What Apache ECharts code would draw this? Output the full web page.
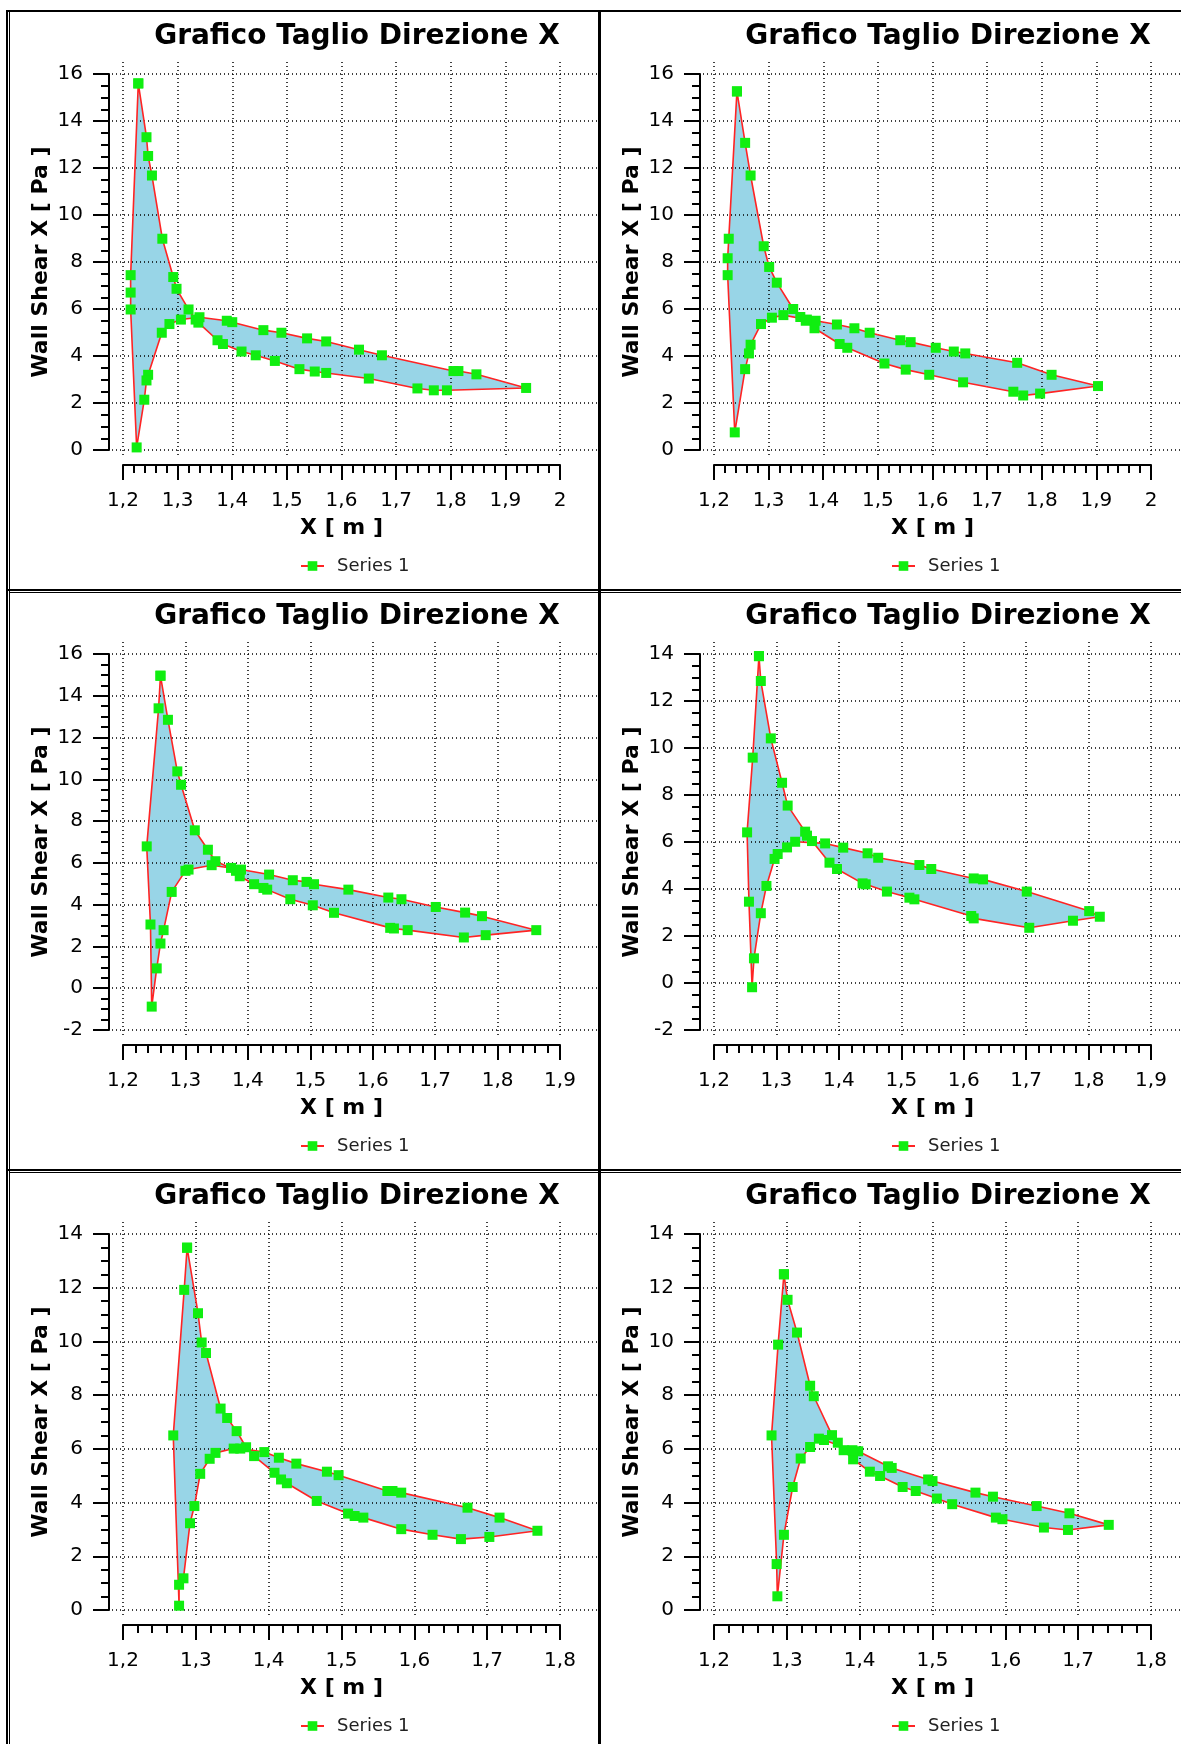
<!DOCTYPE html>
<html>
<head>
<meta charset="utf-8">
<title>Grafico Taglio Direzione X</title>
<script src="https://cdn.jsdelivr.net/npm/echarts@6/dist/echarts.min.js"></script>
<style>
  html, body { margin: 0; padding: 0; background: #fff; }
  #page { position: relative; width: 1181px; height: 1744px; overflow: hidden; background: #fff; }
  .panel { position: absolute; }
  .rule { position: absolute; background: #000; z-index: 5; }
</style>
</head>
<body>
<div id="page"></div>
<script>
// Wall shear X [Pa] along the closed contour, points given as [X (m), shear (Pa)]
// in the order they are visited around the profile.
const contour1 = [[1.228,15.6],[1.243,13.31],[1.246,12.51],[1.253,11.68],[1.272,8.99],[1.292,7.36],[1.298,6.86],[1.320,5.98],[1.333,5.55],[1.338,5.42],[1.373,4.67],[1.383,4.51],[1.417,4.19],[1.443,4.03],[1.478,3.79],[1.523,3.44],[1.551,3.34],[1.572,3.28],[1.650,3.04],[1.739,2.62],[1.769,2.54],[1.793,2.54],[1.938,2.64],[1.847,3.22],[1.814,3.36],[1.805,3.36],[1.674,4.03],[1.632,4.27],[1.572,4.62],[1.537,4.75],[1.490,4.99],[1.457,5.10],[1.400,5.44],[1.390,5.50],[1.340,5.65],[1.306,5.55],[1.285,5.36],[1.271,4.99],[1.246,3.20],[1.243,2.96],[1.239,2.14],[1.225,0.11],[1.214,5.98],[1.214,6.70],[1.214,7.44],[1.228,15.6]];
const contour2 = [[1.242,15.26],[1.257,13.07],[1.267,11.68],[1.291,8.67],[1.301,7.79],[1.315,7.12],[1.345,6.00],[1.358,5.66],[1.368,5.50],[1.384,5.18],[1.430,4.51],[1.444,4.35],[1.512,3.68],[1.551,3.42],[1.594,3.20],[1.656,2.88],[1.748,2.48],[1.766,2.32],[1.797,2.40],[1.903,2.72],[1.818,3.20],[1.755,3.71],[1.660,4.11],[1.639,4.19],[1.606,4.35],[1.560,4.59],[1.541,4.67],[1.485,4.99],[1.457,5.18],[1.425,5.34],[1.386,5.50],[1.370,5.55],[1.327,5.74],[1.306,5.63],[1.286,5.36],[1.267,4.48],[1.264,4.11],[1.257,3.44],[1.238,0.75],[1.225,7.44],[1.225,8.16],[1.227,8.99],[1.242,15.26]];
const contour3 = [[1.260,14.96],[1.272,12.85],[1.287,10.38],[1.293,9.74],[1.315,7.56],[1.336,6.63],[1.348,6.08],[1.373,5.76],[1.381,5.62],[1.387,5.36],[1.410,4.98],[1.425,4.80],[1.431,4.72],[1.468,4.26],[1.504,3.97],[1.538,3.61],[1.628,2.89],[1.634,2.86],[1.656,2.78],[1.746,2.43],[1.781,2.54],[1.862,2.78],[1.775,3.45],[1.748,3.62],[1.701,3.89],[1.646,4.26],[1.625,4.34],[1.561,4.72],[1.506,4.98],[1.494,5.09],[1.472,5.17],[1.434,5.44],[1.389,5.68],[1.342,5.89],[1.305,5.68],[1.300,5.62],[1.278,4.61],[1.265,2.78],[1.260,2.14],[1.254,0.95],[1.246,-0.88],[1.244,3.05],[1.238,6.79],[1.257,13.40],[1.260,14.96]];
const contour4 = [[1.272,13.91],[1.275,12.85],[1.291,10.41],[1.309,8.52],[1.318,7.55],[1.346,6.44],[1.349,6.27],[1.357,6.04],[1.385,5.12],[1.397,4.85],[1.438,4.24],[1.443,4.20],[1.477,3.89],[1.513,3.63],[1.521,3.56],[1.612,2.85],[1.616,2.75],[1.705,2.35],[1.775,2.65],[1.818,2.82],[1.801,3.06],[1.701,3.89],[1.631,4.41],[1.616,4.45],[1.548,4.85],[1.529,5.02],[1.463,5.33],[1.446,5.52],[1.407,5.76],[1.378,5.94],[1.330,6.01],[1.317,5.77],[1.302,5.49],[1.297,5.28],[1.284,4.13],[1.275,2.97],[1.264,1.05],[1.261,-0.18],[1.256,3.46],[1.253,6.41],[1.262,9.59],[1.272,13.91]];
const contour5 = [[1.288,13.49],[1.303,11.05],[1.308,9.96],[1.314,9.57],[1.334,7.50],[1.343,7.15],[1.356,6.66],[1.369,6.06],[1.380,5.73],[1.408,5.11],[1.417,4.86],[1.425,4.72],[1.466,4.06],[1.509,3.59],[1.518,3.50],[1.530,3.44],[1.582,3.01],[1.625,2.80],[1.664,2.64],[1.703,2.72],[1.769,2.95],[1.717,3.44],[1.673,3.81],[1.582,4.37],[1.570,4.43],[1.563,4.43],[1.496,5.02],[1.480,5.15],[1.438,5.45],[1.414,5.67],[1.394,5.88],[1.361,6.01],[1.352,6.01],[1.327,5.85],[1.319,5.63],[1.306,5.07],[1.298,3.87],[1.292,3.23],[1.283,1.18],[1.277,0.94],[1.277,0.16],[1.269,6.50],[1.284,11.92],[1.288,13.49]];
const contour6 = [[1.296,12.50],[1.301,11.55],[1.314,10.33],[1.332,8.35],[1.337,7.96],[1.362,6.51],[1.370,6.23],[1.378,5.95],[1.391,5.61],[1.414,5.15],[1.428,4.99],[1.459,4.58],[1.477,4.43],[1.506,4.15],[1.527,3.94],[1.587,3.44],[1.596,3.38],[1.653,3.07],[1.686,2.98],[1.742,3.17],[1.688,3.60],[1.643,3.87],[1.583,4.22],[1.559,4.37],[1.500,4.80],[1.494,4.86],[1.444,5.29],[1.439,5.35],[1.398,5.91],[1.390,5.95],[1.351,6.33],[1.344,6.38],[1.332,6.07],[1.319,5.64],[1.308,4.58],[1.296,2.80],[1.287,0.51],[1.286,1.71],[1.279,6.50],[1.288,9.88],[1.296,12.50]];

// Axis ranges of the six charts (X in m, shear in Pa)
const xMin = [1.2, 1.2, 1.2, 1.2, 1.2, 1.2];
const xMax = [2, 2, 1.9, 1.9, 1.8, 1.8];
const yMin = [0, 0, -2, -2, 0, 0];
const yMax = [16, 16, 16, 14, 14, 14];
const xStep = 0.1;
const yStep = 2;

const chartTitle = 'Grafico Taglio Direzione X';
const xName = 'X [ m ]';
const yName = 'Wall Shear X [ Pa ]';
const seriesName = 'Series 1';
const contours = [contour1, contour2, contour3, contour4, contour5, contour6];

const FONT = "'DejaVu Sans', Verdana, sans-serif";
const page = document.getElementById('page');

// frame lines around and between the charts
function rule(l, t, w, h) {
  const d = document.createElement('div');
  d.className = 'rule';
  d.style.left = l + 'px'; d.style.top = t + 'px';
  d.style.width = w + 'px'; d.style.height = h + 'px';
  page.appendChild(d);
}
rule(6, 10, 2, 1734);
rule(9, 12, 1, 1732);
rule(6, 10, 1175, 2);
rule(598, 10, 3, 1734);
rule(6, 589, 1175, 2);
rule(9, 592, 1172, 1);
rule(6, 1169, 1175, 2);
rule(9, 1172, 1172, 1);

// plot rectangle (value range) and dotted-grid rectangle inside every chart
const PLOT = { left: 113, top: 64, width: 437, height: 376 };
const GRID_TOP = 52, GRID_BOTTOM = 445, GRID_LEFT = 102;

function commaLabel(v) {
  return String(Math.round(v * 10) / 10).replace('.', ',');
}

function makeChart(i) {
  const col = i % 2, row = Math.floor(i / 2);
  const left = col === 0 ? 10 : 601;
  const width = col === 0 ? 588 : 580;
  const top = 10 + 580 * row;
  const div = document.createElement('div');
  div.className = 'panel';
  div.style.left = left + 'px'; div.style.top = top + 'px';
  div.style.width = width + 'px'; div.style.height = '580px';
  page.appendChild(div);

  const pts = contours[i];
  const gridRight = col === 0 ? 1 : 0;
  const gridW = width - GRID_LEFT - gridRight;
  // the dotted grid runs a little past the value range; same pixel scale as the plot
  const sx = PLOT.width / (xMax[i] - xMin[i]);
  const sy = PLOT.height / (yMax[i] - yMin[i]);
  const gxMin = xMin[i] - (PLOT.left - GRID_LEFT) / sx;
  const gxMax = xMax[i] + (GRID_LEFT + gridW - PLOT.left - PLOT.width) / sx;
  const gyMin = yMin[i] - (GRID_BOTTOM - PLOT.top - PLOT.height) / sy;
  const gyMax = yMax[i] + (PLOT.top - GRID_TOP) / sy;

  const axisLineStyle = { color: '#000', width: 2 };
  const labelStyle = { color: '#000', fontSize: 20, fontFamily: FONT };
  const nameStyle = { color: '#000', fontSize: 22, fontWeight: 'bold', fontFamily: FONT };
  const dotted = { show: true, showMinLine: false, showMaxLine: false,
    lineStyle: { color: '#000', width: 1.5, type: [1, 3] } };

  const chart = echarts.init(div, null, { renderer: 'canvas' });
  chart.setOption({
    animation: false,
    backgroundColor: 'transparent',
    textStyle: { fontFamily: FONT },
    title: {
      text: chartTitle, left: 347, top: 13, textAlign: 'center', padding: 0,
      textStyle: { fontSize: 28, fontWeight: 'bold', color: '#000', fontFamily: FONT }
    },
    legend: {
      data: [seriesName], left: 290, top: 547, padding: 0,
      itemWidth: 23, itemHeight: 12, selectedMode: false,
      textStyle: { fontSize: 18, color: '#222', fontFamily: FONT, padding: [0, 0, 0, 8] }
    },
    grid: [
      Object.assign({ outerBoundsMode: 'none', containLabel: false }, PLOT),
      { outerBoundsMode: 'none', containLabel: false, left: GRID_LEFT, top: GRID_TOP,
        width: gridW, height: GRID_BOTTOM - GRID_TOP }
    ],
    xAxis: [
      {
        type: 'value', gridIndex: 0, min: xMin[i], max: xMax[i], interval: xStep,
        position: 'bottom', offset: 15,
        axisLine: { show: true, onZero: false, lineStyle: axisLineStyle },
        axisTick: { show: true, inside: false, length: 15, lineStyle: axisLineStyle },
        minorTick: { show: true, splitNumber: 5, length: 8, lineStyle: axisLineStyle },
        axisLabel: Object.assign({ margin: 26, formatter: commaLabel, showMinLabel: true, showMaxLabel: true }, labelStyle),
        splitLine: { show: false }, minorSplitLine: { show: false },
        name: xName, nameLocation: 'middle', nameGap: 52, nameMoveOverlap: false,
        nameTextStyle: nameStyle
      },
      {
        type: 'value', gridIndex: 1, min: gxMin, max: gxMax,
        minInterval: xStep, maxInterval: xStep,
        axisLine: { show: false }, axisTick: { show: false }, axisLabel: { show: false },
        splitLine: dotted
      }
    ],
    yAxis: [
      {
        type: 'value', gridIndex: 0, min: yMin[i], max: yMax[i], interval: yStep,
        position: 'left', offset: 14,
        axisLine: { show: true, onZero: false, lineStyle: axisLineStyle },
        axisTick: { show: true, inside: false, length: 16, lineStyle: axisLineStyle },
        minorTick: { show: true, splitNumber: 4, length: 8, lineStyle: axisLineStyle },
        axisLabel: Object.assign({ margin: 26, showMinLabel: true, showMaxLabel: true }, labelStyle),
        splitLine: { show: false }, minorSplitLine: { show: false },
        name: yName, nameLocation: 'middle', nameGap: 57, nameRotate: 90, nameMoveOverlap: false,
        nameTextStyle: nameStyle
      },
      {
        type: 'value', gridIndex: 1, min: gyMin, max: gyMax,
        minInterval: yStep, maxInterval: yStep,
        axisLine: { show: false }, axisTick: { show: false }, axisLabel: { show: false },
        splitLine: dotted
      }
    ],
    series: [
      {
        // filled region enclosed by the contour
        type: 'custom', name: 'area', xAxisIndex: 0, yAxisIndex: 0, z: -1, silent: true,
        data: [pts[0]],
        renderItem: function (params, api) {
          return {
            type: 'polygon',
            shape: { points: pts.map(function (p) { return api.coord(p); }) },
            style: { fill: '#98d5e7', stroke: null }
          };
        }
      },
      {
        type: 'line', name: seriesName, xAxisIndex: 0, yAxisIndex: 0, z: 3,
        data: pts, symbol: 'rect', symbolSize: 10, showAllSymbol: true, clip: false,
        lineStyle: { color: '#ff2424', width: 1.6 },
        itemStyle: { color: '#10ee10' },
        emphasis: { disabled: true }
      }
    ]
  });
}

for (let i = 0; i < 6; i++) makeChart(i);
</script>
</body>
</html>
